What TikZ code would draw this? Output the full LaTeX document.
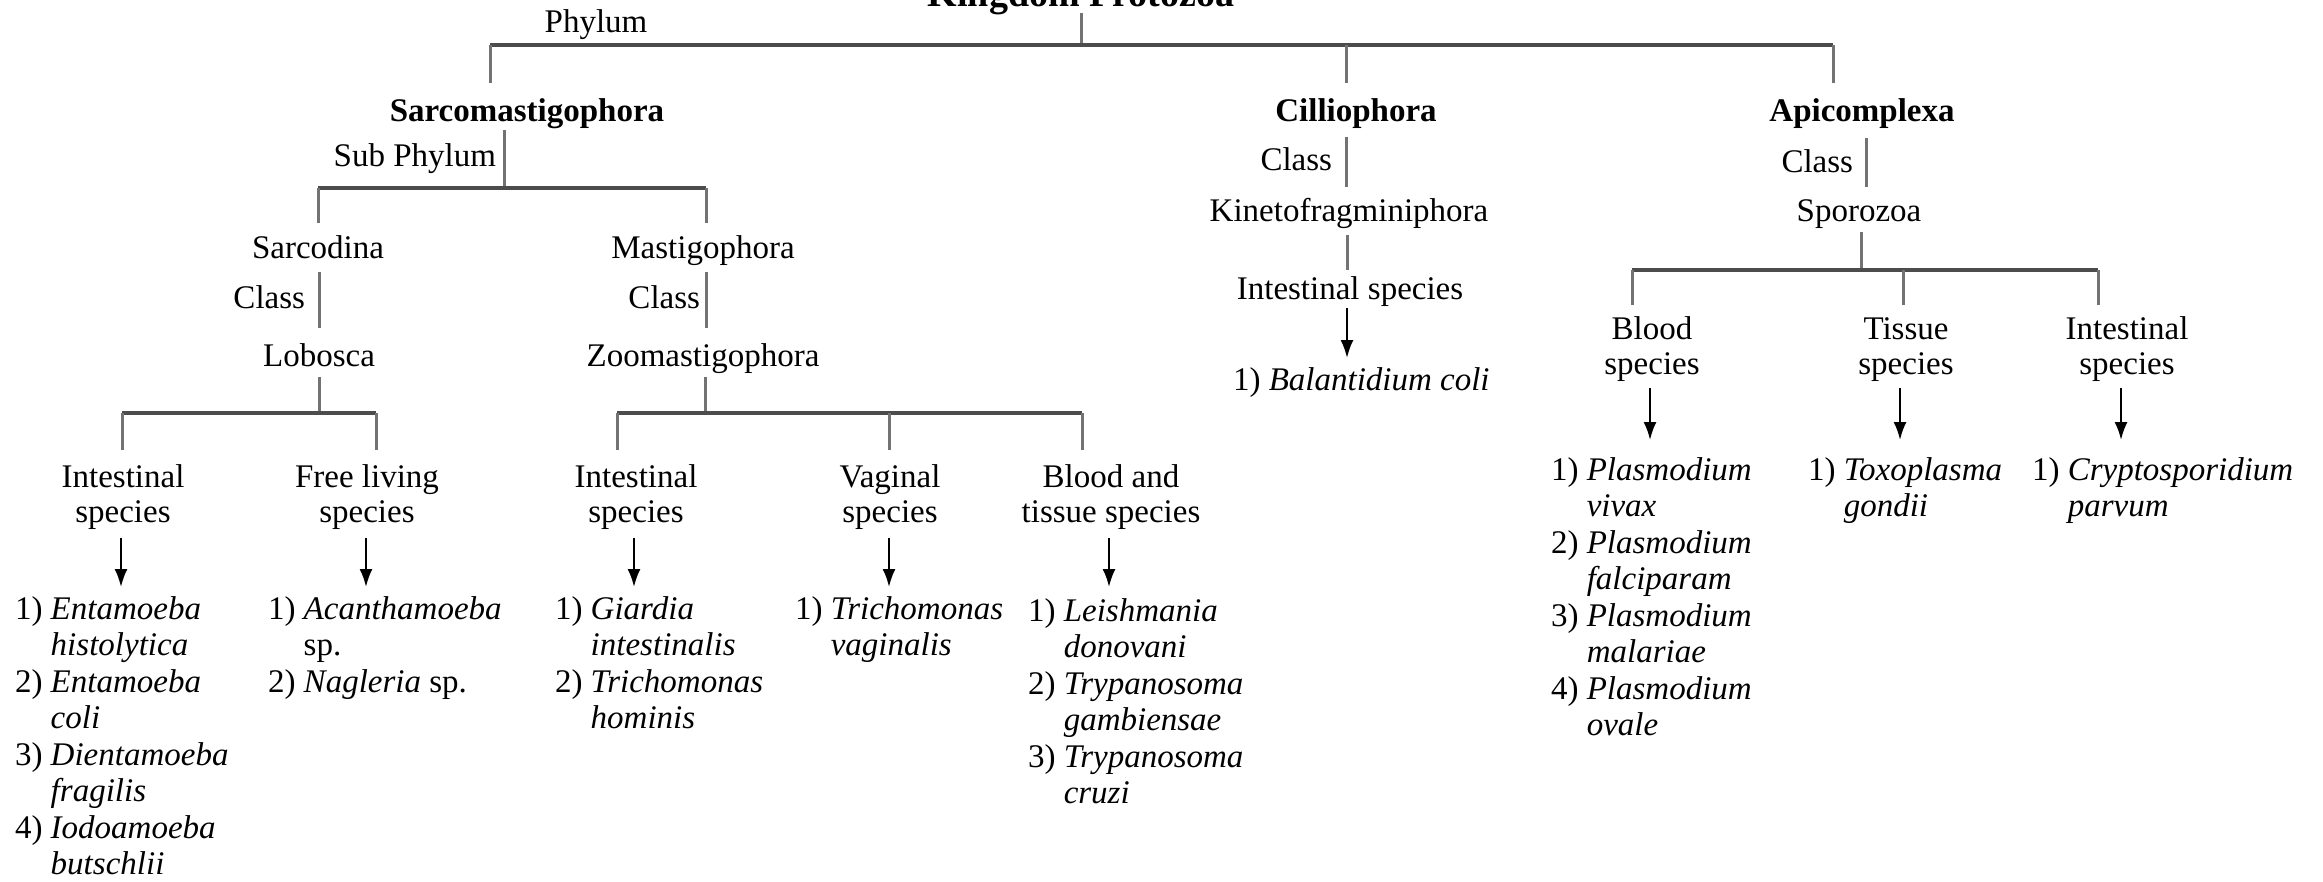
\documentclass[tikz,border=0pt]{standalone}
\usepackage{fontspec}
\setmainfont{Liberation Serif}
\usetikzlibrary{arrows.meta}
\newcommand\splist[1]{\begin{tabular}[t]{@{}r@{\hspace{0.25em}}l@{}}#1\end{tabular}}
\newcommand\twoline[1]{\begin{tabular}[t]{@{}c@{}}#1\end{tabular}}
\begin{document}
\begin{tikzpicture}[x=1pt,y=-1pt,
  txt/.style={inner sep=0pt, outer sep=0pt, font=\fontsize{33}{35}\selectfont, anchor=base},
  boldtxt/.style={txt, font=\fontsize{33}{35}\selectfont\bfseries},
  listtxt/.style={inner sep=0pt, outer sep=0pt, font=\fontsize{33}{36.5}\selectfont, anchor=base west},
  hbar/.style={line width=4.5pt, draw=black!70},
  vbar/.style={line width=3pt, draw=black!55},
  arr/.style={line width=2.2pt, draw=black, -{Latex[length=18pt,width=13pt]}},
]
\useasboundingbox[fill=white] (0,0) rectangle (2323,881);

% ---------- level 0 ----------
\node[txt, font=\fontsize{38}{40}\selectfont\bfseries] (title) at (1081,6) {Kingdom Protozoa};
\node[txt] (phylum) at (596,32) {Phylum};
\coordinate (t0) at (1081,13);
\coordinate (t1) at (1081,45);
\coordinate (hL) at (490,45);
\coordinate (hR) at (1833,45);
\coordinate (hM) at (1346,45);
\coordinate (dL) at (490,83);
\coordinate (dM) at (1346,83);
\coordinate (dR) at (1833,83);
\draw[vbar] (t0) -- (t1);
\draw[hbar] (hL) -- (hR);
\draw[vbar] (hL) -- (dL);
\draw[vbar] (hM) -- (dM);
\draw[vbar] (hR) -- (dR);

% ---------- phyla ----------
\node[boldtxt] (sarco) at (527,121) {Sarcomastigophora};
\node[boldtxt] (cillio) at (1356,121) {Cilliophora};
\node[boldtxt] (apic) at (1862,121) {Apicomplexa};

% ---------- Sarcomastigophora ----------
\node[txt, anchor=base east] (subph) at (496,166) {Sub Phylum};
\coordinate (s0) at (504,130);
\coordinate (s1) at (504,188);
\coordinate (sL) at (318,188);
\coordinate (sR) at (706,188);
\coordinate (sLd) at (318,223);
\coordinate (sRd) at (706,223);
\draw[vbar] (s0) -- (s1);
\draw[hbar] (sL) -- (sR);
\draw[vbar] (sL) -- (sLd);
\draw[vbar] (sR) -- (sRd);

\node[txt] (sarcod) at (318,258) {Sarcodina};
\node[txt] (mastig) at (703,258) {Mastigophora};
\node[txt, anchor=base east] (class1) at (305,308) {Class};
\node[txt, anchor=base east] (class2) at (700,308) {Class};
\coordinate (c1a) at (319,272);
\coordinate (c1b) at (319,328);
\coordinate (c2a) at (706,272);
\coordinate (c2b) at (706,328);
\draw[vbar] (c1a) -- (c1b);
\draw[vbar] (c2a) -- (c2b);
\node[txt] (lobo) at (319,366) {Lobosca};
\node[txt] (zoom) at (703,366) {Zoomastigophora};

% Lobosca branch
\coordinate (l0) at (319,377);
\coordinate (l1) at (319,413);
\coordinate (lL) at (122,413);
\coordinate (lR) at (376,413);
\coordinate (lLd) at (122,450);
\coordinate (lRd) at (376,450);
\draw[vbar] (l0) -- (l1);
\draw[hbar] (lL) -- (lR);
\draw[vbar] (lL) -- (lLd);
\draw[vbar] (lR) -- (lRd);

% Zoomastigophora branch
\coordinate (z0) at (705,377);
\coordinate (z1) at (705,413);
\coordinate (zL) at (617,413);
\coordinate (zM) at (889,413);
\coordinate (zR) at (1082,413);
\coordinate (zLd) at (617,450);
\coordinate (zMd) at (889,450);
\coordinate (zRd) at (1082,450);
\draw[vbar] (z0) -- (z1);
\draw[hbar] (zL) -- (zR);
\draw[vbar] (zL) -- (zLd);
\draw[vbar] (zM) -- (zMd);
\draw[vbar] (zR) -- (zRd);

% species labels row A
\node[txt] (intA) at (123,487) {\twoline{Intestinal\\species}};
\node[txt] (free) at (367,487) {\twoline{Free living\\species}};
\node[txt] (intB) at (636,487) {\twoline{Intestinal\\species}};
\node[txt] (vag) at (890,487) {\twoline{Vaginal\\species}};
\node[txt] (blt) at (1111,487) {\twoline{Blood and\\tissue species}};

% arrows row A
\coordinate (aA0) at (121,538); \coordinate (aA1) at (121,587);
\coordinate (aB0) at (366,538); \coordinate (aB1) at (366,587);
\coordinate (aC0) at (634,538); \coordinate (aC1) at (634,587);
\coordinate (aD0) at (889,538); \coordinate (aD1) at (889,587);
\coordinate (aE0) at (1109,538); \coordinate (aE1) at (1109,587);
\draw[arr] (aA0) -- (aA1);
\draw[arr] (aB0) -- (aB1);
\draw[arr] (aC0) -- (aC1);
\draw[arr] (aD0) -- (aD1);
\draw[arr] (aE0) -- (aE1);

% lists row A
\node[listtxt] (listA) at (15,619) {\splist{1) & \textit{Entamoeba}\\ & \textit{histolytica}\\ 2) & \textit{Entamoeba}\\ & \textit{coli}\\ 3) & \textit{Dientamoeba}\\ & \textit{fragilis}\\ 4) & \textit{Iodoamoeba}\\ & \textit{butschlii}}};
\node[listtxt] (listB) at (268,619) {\splist{1) & \textit{Acanthamoeba}\\ & sp.\\ 2) & \textit{Nagleria} sp.}};
\node[listtxt] (listC) at (555,619) {\splist{1) & \textit{Giardia}\\ & \textit{intestinalis}\\ 2) & \textit{Trichomonas}\\ & \textit{hominis}}};
\node[listtxt] (listD) at (795,619) {\splist{1) & \textit{Trichomonas}\\ & \textit{vaginalis}}};
\node[listtxt] (listE) at (1028,621) {\splist{1) & \textit{Leishmania}\\ & \textit{donovani}\\ 2) & \textit{Trypanosoma}\\ & \textit{gambiensae}\\ 3) & \textit{Trypanosoma}\\ & \textit{cruzi}}};

% ---------- Cilliophora ----------
\node[txt, anchor=base east] (class3) at (1332,170) {Class};
\coordinate (k0) at (1346,137); \coordinate (k1) at (1346,187);
\draw[vbar] (k0) -- (k1);
\node[txt] (kineto) at (1349,221) {Kinetofragminiphora};
\coordinate (k2) at (1347,235); \coordinate (k3) at (1347,270);
\draw[vbar] (k2) -- (k3);
\node[txt] (intC) at (1350,299) {Intestinal species};
\coordinate (k4) at (1347,308); \coordinate (k5) at (1347,358);
\draw[arr] (k4) -- (k5);
\node[listtxt] (listF) at (1233,390) {\splist{1) & \textit{Balantidium coli}}};

% ---------- Apicomplexa ----------
\node[txt, anchor=base east] (class4) at (1853,172) {Class};
\coordinate (p0) at (1866,138); \coordinate (p1) at (1866,187);
\draw[vbar] (p0) -- (p1);
\node[txt] (sporo) at (1859,221) {Sporozoa};
\coordinate (p2) at (1861,232); \coordinate (p3) at (1861,270);
\coordinate (pL) at (1632,270); \coordinate (pM) at (1903,270); \coordinate (pR) at (2098,270);
\coordinate (pLd) at (1632,305); \coordinate (pMd) at (1903,305); \coordinate (pRd) at (2098,305);
\draw[vbar] (p2) -- (p3);
\draw[hbar] (pL) -- (pR);
\draw[vbar] (pL) -- (pLd);
\draw[vbar] (pM) -- (pMd);
\draw[vbar] (pR) -- (pRd);

\node[txt] (blood) at (1652,339) {\twoline{Blood\\species}};
\node[txt] (tissue) at (1906,339) {\twoline{Tissue\\species}};
\node[txt] (intD) at (2127,339) {\twoline{Intestinal\\species}};

\coordinate (bF0) at (1650,388); \coordinate (bF1) at (1650,440);
\coordinate (bG0) at (1900,388); \coordinate (bG1) at (1900,440);
\coordinate (bH0) at (2121,388); \coordinate (bH1) at (2121,440);
\draw[arr] (bF0) -- (bF1);
\draw[arr] (bG0) -- (bG1);
\draw[arr] (bH0) -- (bH1);

\node[listtxt] (listG) at (1551,480) {\splist{1) & \textit{Plasmodium}\\ & \textit{vivax}\\ 2) & \textit{Plasmodium}\\ & \textit{falciparam}\\ 3) & \textit{Plasmodium}\\ & \textit{malariae}\\ 4) & \textit{Plasmodium}\\ & \textit{ovale}}};
\node[listtxt] (listH) at (1808,480) {\splist{1) & \textit{Toxoplasma}\\ & \textit{gondii}}};
\node[listtxt] (listI) at (2032,480) {\splist{1) & \textit{Cryptosporidium}\\ & \textit{parvum}}};
\end{tikzpicture}
\end{document}
